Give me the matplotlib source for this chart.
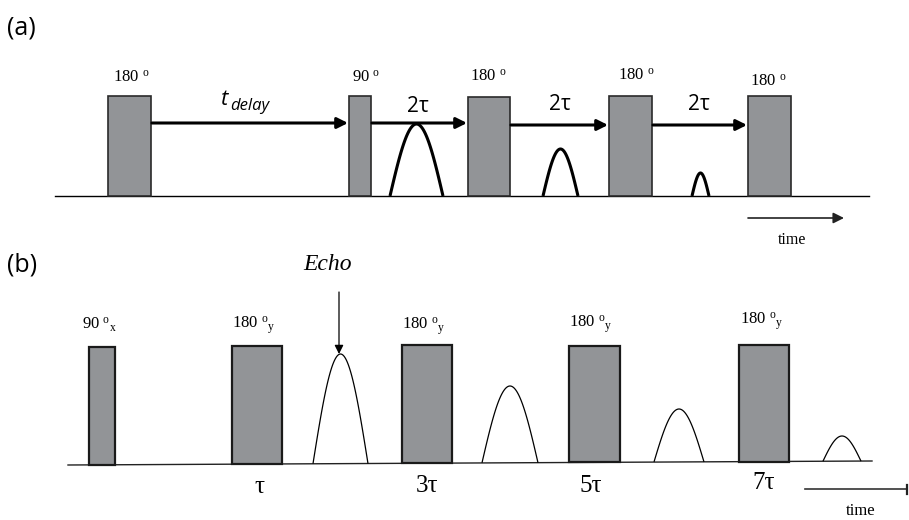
"""
Pulse sequence sketch: (a) inversion recovery + CPMG, (b) CPMG echo train
"""

import numpy as np
import matplotlib.pyplot as plt
from matplotlib.patches import Rectangle

plt.rcParams['mathtext.fontset'] = 'custom'
plt.rcParams['mathtext.rm'] = 'Liberation Serif'
plt.rcParams['mathtext.it'] = 'Liberation Serif:italic'

SANS = ['Open Sans', 'DejaVu Sans']
SERIF = ['Liberation Serif', 'DejaVu Serif']
PULSE_FACE = '#929497'

# ---- panel (a): pixel positions on the drawing ----
a_base_y = 196
a_pulse_left = [108, 349, 468, 609, 748]
a_pulse_right = [151, 371, 510, 652, 791]
a_pulse_top = [96, 96, 97, 96, 96]
a_pulse_angle = ['180', '90', '180', '180', '180']
a_angle_x = [131, 366, 488, 636, 768]
a_angle_y = [78, 78, 77, 76, 82]
a_arrow_y = [123, 123, 125, 125]
a_gap_label = ['2τ', '2τ', '2τ']
a_gap_label_x = [418, 560, 699]
a_gap_label_y = [106, 104, 104]
a_echo_left = [390, 543, 692]
a_echo_right = [443, 578, 709]
a_echo_peak = [124, 149, 173]

# ---- panel (b) ----
b_base_left = (68, 465)
b_base_right = (872, 461)
b_pulse_left = [89, 232, 402, 569, 739]
b_pulse_right = [115, 282, 452, 620, 789]
b_pulse_top = [347, 346, 345, 346, 345]
b_pulse_angle = ['90', '180', '180', '180', '180']
b_pulse_axis = ['x', 'y', 'y', 'y', 'y']
b_angle_x = [99, 254, 424, 591, 762]
b_angle_y = [325, 325, 326, 324, 321]
b_tau_label = ['τ', '3τ', '5τ', '7τ']
b_tau_x = [259, 427, 591, 764]
b_tau_y = [487, 486, 486, 483]
b_echo_left = [313, 482, 654, 823]
b_echo_right = [368, 538, 704, 861]
b_echo_peak = [354, 386, 409, 436]


def base_at(x):
    (x0, y0), (x1, y1) = b_base_left, b_base_right
    return y0 + (y1 - y0) * (x - x0) / (x1 - x0)


def draw_echo(ax, left, right, peak, base, lw):
    x = np.linspace(left, right, 80)
    c = 0.5 * (left + right)
    y = base - (base - peak) * np.cos(np.pi * (x - c) / (right - left))
    ax.plot(x, y, color='black', lw=lw, solid_capstyle='butt')


def arrow(ax, x0, y0, x1, y1, lw, scale, color='black'):
    ax.annotate('', xy=(x1, y1), xytext=(x0, y0),
                arrowprops=dict(arrowstyle='-|>', color=color, lw=lw,
                                mutation_scale=scale, shrinkA=0, shrinkB=0))


fig = plt.figure(figsize=(9.09, 5.2), dpi=100)
ax = fig.add_axes([0, 0, 1, 1])
ax.set_xlim(0, 909)
ax.set_ylim(520, 0)
ax.axis('off')

# panel (a)
ax.text(7, 28, '(a)', family=SANS, fontsize=18, ha='left', va='center')
ax.plot([55, 869], [a_base_y, a_base_y], color='black', lw=1.0)

for i in range(len(a_pulse_left)):
    l, r, t = a_pulse_left[i], a_pulse_right[i], a_pulse_top[i]
    ax.add_patch(Rectangle((l, t), r - l, a_base_y - t, facecolor=PULSE_FACE,
                           edgecolor='#2a2a2a', lw=1.2, zorder=3))
    ax.text(a_angle_x[i], a_angle_y[i], a_pulse_angle[i] + r' $^{\mathrm{o}}$',
            family=SERIF, fontsize=12, ha='center', va='center')

for i in range(len(a_pulse_left) - 1):
    arrow(ax, a_pulse_right[i] + 1, a_arrow_y[i], a_pulse_left[i + 1] - 1,
          a_arrow_y[i], lw=2.2, scale=16)

ax.text(221, 105, 't', family=SANS, style='italic', fontsize=16,
        ha='left', va='baseline')
ax.text(230, 110, 'delay', family=SANS, style='italic', fontsize=12,
        ha='left', va='baseline')
for i in range(len(a_gap_label)):
    ax.text(a_gap_label_x[i], a_gap_label_y[i], a_gap_label[i], family=SANS,
            fontsize=15, ha='center', va='center')

for i in range(len(a_echo_left)):
    draw_echo(ax, a_echo_left[i], a_echo_right[i], a_echo_peak[i], a_base_y, 2.2)

arrow(ax, 748, 218, 844, 218, lw=1.2, scale=16, color='#222222')
ax.text(792, 240, 'time', family=SERIF, fontsize=11.5, ha='center', va='center')

# panel (b)
ax.text(7, 265, '(b)', family=SANS, fontsize=18, ha='left', va='center')
ax.plot([b_base_left[0], b_base_right[0]], [b_base_left[1], b_base_right[1]],
        color='#222222', lw=1.0)

for i in range(len(b_pulse_left)):
    l, r, t = b_pulse_left[i], b_pulse_right[i], b_pulse_top[i]
    bot = base_at(0.5 * (l + r))
    ax.add_patch(Rectangle((l, t), r - l, bot - t, facecolor=PULSE_FACE,
                           edgecolor='#1a1a1a', lw=1.6, zorder=3))
    ax.text(b_angle_x[i], b_angle_y[i],
            b_pulse_angle[i] + r' $^{\mathrm{o}}{}_{\mathrm{' + b_pulse_axis[i] + '}}$',
            family=SERIF, fontsize=12, ha='center', va='center')

for i in range(len(b_tau_label)):
    ax.text(b_tau_x[i], b_tau_y[i], b_tau_label[i], family=SERIF, fontsize=18,
            ha='center', va='center')

for i in range(len(b_echo_left)):
    c = 0.5 * (b_echo_left[i] + b_echo_right[i])
    draw_echo(ax, b_echo_left[i], b_echo_right[i], b_echo_peak[i], base_at(c), 0.9)

ax.text(328, 265, 'Echo', family=SERIF, style='italic', fontsize=17,
        ha='center', va='center')
arrow(ax, 339, 292, 339, 354, lw=0.9, scale=13)

ax.plot([805, 907], [489, 489], color='#333333', lw=1.2)
ax.plot([907, 907], [485, 494], color='#222222', lw=1.6)
ax.text(861, 511, 'time', family=SERIF, fontsize=12, ha='center', va='center')

fig.savefig('out.png', dpi=100)
